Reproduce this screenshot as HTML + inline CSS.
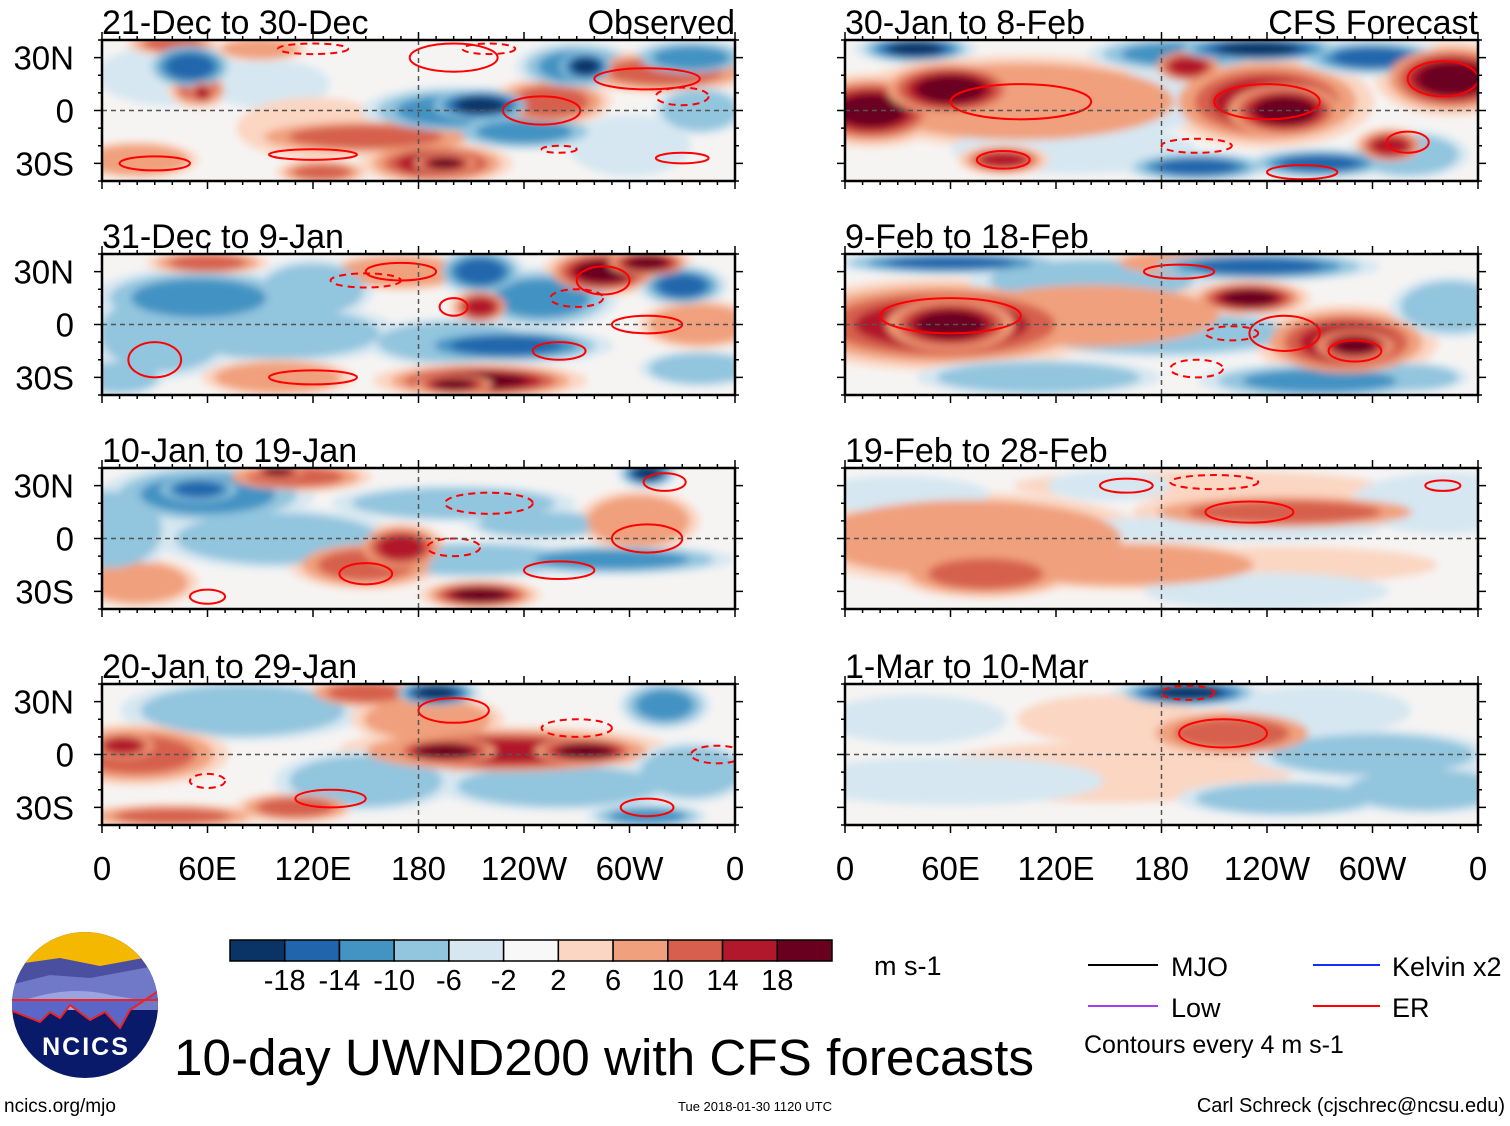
<!DOCTYPE html>
<html><head><meta charset="utf-8"><style>
html,body{margin:0;padding:0;background:#fff;}
body{width:1510px;height:1121px;overflow:hidden;font-family:"Liberation Sans",sans-serif;}
svg text{font-family:"Liberation Sans",sans-serif;fill:#000;}
</style></head><body>
<svg id="fig" width="1510" height="1121" viewBox="0 0 1510 1121" xmlns="http://www.w3.org/2000/svg">
<defs>
<filter id="soft" x="-20%" y="-20%" width="140%" height="140%"><feGaussianBlur stdDeviation="4"/></filter>
<clipPath id="logoClip"><circle cx="85" cy="1005" r="73"/></clipPath>
</defs>
<g id="panels"></g>
<g id="colorbar"></g>
<text x="874" y="975" font-size="27">m s-1</text>
<g clip-path="url(#logoClip)">
<rect x="10" y="930" width="150" height="150" fill="#0a1a6a"/>
<rect x="10" y="930" width="150" height="40" fill="#f5b800"/>
<path d="M10 965 L60 958 L100 966 L160 955 L160 1000 L10 1000Z" fill="#4a4fa0"/>
<path d="M10 985 L50 975 L90 978 L160 965 L160 1010 L10 1010Z" fill="#7078c8"/>
<path d="M25 1000 Q70 985 110 995 L140 1000 L100 1010 L30 1010Z" fill="#9aa4e0"/>
<path d="M10 1010 L40 1022 L50 1012 L60 1018 L70 1005 L90 1020 L105 1012 L120 1028 L130 1010 L160 990 L160 1000 L10 1000Z" fill="#5a66c8" stroke="#e22" stroke-width="2"/>
<text x="86" y="1055" font-size="25" font-weight="bold" text-anchor="middle" style="fill:#fff" letter-spacing="2">NCICS</text>
</g>
<text x="174" y="1075" font-size="51" textLength="860" lengthAdjust="spacingAndGlyphs">10-day UWND200 with CFS forecasts</text>
<text x="4" y="1112" font-size="19">ncics.org/mjo</text>
<text x="755" y="1111" font-size="13" text-anchor="middle">Tue 2018-01-30 1120 UTC</text>
<text x="1505" y="1112" font-size="20" text-anchor="end">Carl Schreck (cjschrec@ncsu.edu)</text>
<g>
<line x1="1088" y1="965" x2="1158" y2="965" stroke="#000" stroke-width="2"/>
<text x="1171" y="976" font-size="27">MJO</text>
<line x1="1088" y1="1006" x2="1158" y2="1006" stroke="#a040f0" stroke-width="2"/>
<text x="1171" y="1017" font-size="27">Low</text>
<line x1="1313" y1="965" x2="1380" y2="965" stroke="#1030ff" stroke-width="2"/>
<text x="1392" y="976" font-size="27">Kelvin x2</text>
<line x1="1313" y1="1006" x2="1380" y2="1006" stroke="#f00" stroke-width="2"/>
<text x="1392" y="1017" font-size="27">ER</text>
<text x="1084" y="1053" font-size="25">Contours every 4 m s-1</text>
</g>
</svg>
<script>
const levelLabels=["-18","-14","-10","-6","-2","2","6","10","14","18"];
const levelColors=["#0b3466","#2166ac","#4393c3","#92c5de","#d6e7f1","#f8f8f8","#fbd6c2","#f0a07c","#d6604d","#b2182b","#6a0020"];
const panelTitles=["21-Dec to 30-Dec","31-Dec to 9-Jan","10-Jan to 19-Jan","20-Jan to 29-Jan","30-Jan to 8-Feb","9-Feb to 18-Feb","19-Feb to 28-Feb","1-Mar to 10-Mar"];
const lonTicks=[0,60,120,180,240,300,360];
const lonTickLabels=["0","60E","120E","180","120W","60W","0"];
const latTicks=[30,0,-30];
const latTickLabels=["30N","0","30S"];
// anomaly blobs: [lon, lat, lonRadius, latRadius, level(-5..5)]
const blobs0=[[40,20,25,10,-1],[50,25,15,8,-4],[55,12,10,6,3],[57,10,5,4,4],[95,15,20,8,-1],[20,-28,20,6,2],[120,-10,25,10,1],[150,-15,40,6,3],[200,0,30,8,-3],[215,3,18,6,-5],[240,-12,25,6,-3],[255,5,20,8,3],[190,-30,25,7,4],[195,-30,12,4,5],[125,-35,15,4,3],[270,25,20,8,-3],[275,25,10,6,-5],[320,22,30,7,3],[335,30,20,6,-3],[340,0,15,8,-2],[40,38,15,4,3],[90,35,15,4,2],[300,-20,20,10,-1]];
const blobs1=[[55,15,35,10,-3],[35,-5,25,15,-2],[60,35,20,4,3],[170,30,25,6,2],[215,30,15,8,-4],[250,15,25,10,-3],[215,10,10,6,4],[285,30,20,8,5],[310,35,15,5,5],[330,22,15,7,-4],[200,-10,30,8,-2],[230,-12,35,6,-4],[215,-32,35,6,5],[200,-34,15,4,5],[100,-5,40,10,-2],[100,-30,25,6,2],[10,-30,15,6,-2],[340,-25,20,6,-2],[120,20,20,10,-2],[340,0,20,8,2]];
const blobs2=[[60,25,35,10,-3],[55,28,15,5,-4],[100,0,40,10,-2],[110,35,25,5,3],[100,38,10,3,5],[200,20,40,6,-2],[250,8,25,5,-2],[310,37,10,5,-5],[290,-12,40,5,-3],[210,-12,40,6,-2],[215,-32,20,5,5],[150,-15,25,8,3],[20,-25,20,8,2],[305,10,20,10,2],[5,5,20,15,-2],[170,-5,15,8,4]];
const blobs3=[[80,25,40,10,-2],[190,35,15,5,-5],[185,20,25,8,2],[230,2,55,8,4],[195,2,20,5,5],[275,2,20,5,5],[320,28,15,8,-3],[20,0,30,10,3],[12,5,12,5,4],[110,-30,20,5,3],[260,-18,40,8,-2],[310,-35,20,4,-3],[40,-35,30,4,3],[335,-10,20,10,-2],[150,-15,30,10,-2],[150,35,20,5,3]];
const blobs4=[[40,35,20,5,-5],[100,5,60,15,2],[15,0,25,12,5],[60,12,25,10,5],[190,32,30,6,-3],[235,35,30,5,-5],[195,25,12,6,4],[240,5,35,15,4],[250,0,22,10,5],[345,18,25,12,5],[300,30,25,6,-4],[200,-32,25,5,-4],[270,-30,25,5,-4],[320,-25,20,8,-2],[130,-22,40,8,-1],[90,-28,15,5,4],[310,-20,12,6,4],[170,5,20,10,-1]];
const blobs5=[[55,0,55,15,4],[60,0,25,10,5],[60,35,40,4,-4],[140,25,40,8,-2],[235,33,40,5,-4],[230,15,20,6,5],[180,-5,50,8,-2],[285,-10,30,12,4],[290,-12,15,6,5],[140,5,50,12,2],[270,-32,40,6,-3],[345,10,20,10,-2],[200,35,30,5,2],[110,-30,40,6,-2],[320,-30,20,5,-2]];
const blobs6=[[70,0,60,15,2],[80,-20,30,8,3],[250,15,50,6,3],[200,30,60,5,1],[160,-15,50,8,2],[250,-15,50,6,1],[340,20,30,10,-1],[30,25,30,6,-1],[200,5,60,4,-1],[240,-30,40,6,-1],[150,30,20,5,-1]];
const blobs7=[[195,35,25,5,-5],[220,12,30,8,3],[150,-10,60,10,1],[60,-15,50,8,-1],[300,0,40,8,-2],[330,-20,30,8,-2],[270,25,30,8,-1],[40,20,30,8,-1],[150,20,30,8,1],[250,-25,35,6,-2]];
// red contours: [lon, lat, lonRadius, latRadius, dashed]
const cont0=[[200,30,25,8,0],[250,0,22,8,0],[310,18,30,6,0],[120,-25,25,3,0],[260,-22,10,2,1],[330,-27,15,3,0],[30,-30,20,4,0],[120,35,20,3,1],[220,35,15,3,1],[330,8,15,5,1]];
const cont1=[[170,30,20,5,0],[285,25,15,8,0],[200,10,8,5,0],[310,0,20,5,0],[260,-15,15,5,0],[30,-20,15,10,0],[120,-30,25,4,0],[270,15,15,5,1],[150,25,20,4,1]];
const cont2=[[220,20,25,6,1],[310,0,20,8,0],[260,-18,20,5,0],[150,-20,15,6,0],[60,-33,10,4,0],[320,32,12,5,0],[200,-5,15,5,1]];
const cont3=[[200,25,20,7,0],[270,15,20,5,1],[130,-25,20,5,0],[310,-30,15,5,0],[60,-15,10,4,1],[350,0,15,5,1]];
const cont4=[[100,5,40,10,0],[240,5,30,10,0],[340,18,20,10,0],[320,-18,12,6,0],[260,-35,20,4,0],[90,-28,15,5,0],[200,-20,20,4,1]];
const cont5=[[60,5,40,10,0],[190,30,20,4,0],[250,-5,20,10,0],[220,-5,15,4,1],[290,-15,15,6,0],[200,-25,15,5,1]];
const cont6=[[230,15,25,6,0],[160,30,15,4,0],[210,32,25,4,1],[340,30,10,3,0]];
const cont7=[[215,12,25,8,0],[195,35,15,4,1]];
const allBlobs=[blobs0,blobs1,blobs2,blobs3,blobs4,blobs5,blobs6,blobs7];
const allCont=[cont0,cont1,cont2,cont3,cont4,cont5,cont6,cont7];

const NS="http://www.w3.org/2000/svg";
function mk(tag,attrs,parent){const e=document.createElementNS(NS,tag);for(const k in attrs)e.setAttribute(k,attrs[k]);parent.appendChild(e);return e;}
const colX=[102,845];const rowY=[40,254,468,684];const PW=633,PH=141;
const panelsG=document.getElementById('panels');
const GROW=1.45;
for(let p=0;p<8;p++){
  const x0=colX[p<4?0:1],y0=rowY[p%4];
  const lonX=l=>x0+l/360*PW;
  const latY=a=>y0+PH/2-a/80*PH;
  const g=mk('g',{},panelsG);
  
  
  const cid='clip'+p;
  const cp=mk('clipPath',{id:cid},g);mk('rect',{x:x0,y:y0,width:PW,height:PH},cp);
  const inner=mk('g',{'clip-path':'url(#'+cid+')'},g);
  mk('rect',{x:x0,y:y0,width:PW,height:PH,fill:'#f6f4f3'},inner);
  const fg=mk('g',{filter:'url(#soft)'},inner);
  const bs=allBlobs[p];
  bs.forEach(b=>{
    const sgn=Math.sign(b[4]);if(!sgn)return;
    const e=mk('ellipse',{cx:lonX(b[0]),cy:latY(b[1]),rx:b[2]/360*PW*GROW*1.2,ry:b[3]/80*PH*GROW*1.2,fill:levelColors[5+sgn]},fg);
    
    
  });
  bs.slice().sort((a,b)=>Math.abs(a[4])-Math.abs(b[4])).forEach(b=>{
    const lv=b[4];const steps=Math.abs(lv);const sgn=Math.sign(lv);
    for(let s=2;s<=steps;s++){
      const f=1-(s-2)/(steps+0.5)*0.85;
      const e=mk('ellipse',{cx:lonX(b[0]),cy:latY(b[1]),rx:b[2]/360*PW*f*GROW,ry:b[3]/80*PH*f*GROW,fill:levelColors[5+sgn*s]},fg);
      
      
    }
  });
  allCont[p].forEach(c=>{
    const e=mk('ellipse',{cx:lonX(c[0]),cy:latY(c[1]),rx:c[2]/360*PW,ry:c[3]/80*PH,fill:'none',stroke:'#f00','stroke-width':2,'stroke-dasharray':c[4]?'7,5':'none'},inner);
    
    
  });
  mk('line',{x1:x0,x2:x0+PW,y1:latY(0),y2:latY(0),stroke:'#555','stroke-width':1.5,'stroke-dasharray':'5,4'},inner);
  mk('line',{x1:lonX(180),x2:lonX(180),y1:y0,y2:y0+PH,stroke:'#555','stroke-width':1.5,'stroke-dasharray':'5,4'},inner);
  mk('rect',{x:x0,y:y0,width:PW,height:PH,fill:'none',stroke:'#000','stroke-width':2.5},g);
  for(let l=0;l<=360;l+=10){const len=l%60===0?8:4;
    mk('line',{x1:lonX(l),x2:lonX(l),y1:y0,y2:y0-len,stroke:'#000','stroke-width':1.5},g);
    mk('line',{x1:lonX(l),x2:lonX(l),y1:y0+PH,y2:y0+PH+len,stroke:'#000','stroke-width':1.5},g);}
  for(let a=-40;a<=40;a+=10){const len=a%30===0?8:4;
    mk('line',{x1:x0,x2:x0-len,y1:latY(a),y2:latY(a),stroke:'#000','stroke-width':1.5},g);
    mk('line',{x1:x0+PW,x2:x0+PW+len,y1:latY(a),y2:latY(a),stroke:'#000','stroke-width':1.5},g);}
  const t=mk('text',{x:x0,y:y0-6,'font-size':34},g);t.textContent=panelTitles[p];
  
  
  if(p%4===0){const s=mk('text',{x:x0+PW,y:y0-6,'font-size':34,'text-anchor':'end'},g);s.textContent=p===0?'Observed':'CFS Forecast';
    
    }
  if(p<4){latTicks.forEach((a,i)=>{const tl=mk('text',{x:74,y:latY(a)+12,'font-size':33,'text-anchor':'end'},g);tl.textContent=latTickLabels[i];
    
    });}
  if(p%4===3){lonTicks.forEach((l,i)=>{const tl=mk('text',{x:lonX(l),y:880,'font-size':33,'text-anchor':'middle'},g);tl.textContent=lonTickLabels[i];
    
    });}
}
const cb=document.getElementById('colorbar');
const cbx=230,cbw=602/11;
levelColors.forEach((c,i)=>{const r=mk('rect',{x:cbx+i*cbw,y:940,width:cbw,height:21,fill:c,stroke:'#000','stroke-width':1.5},cb);
  
  });
levelLabels.forEach((s,i)=>{const t=mk('text',{x:cbx+(i+1)*cbw,y:990,'font-size':29,'text-anchor':'middle'},cb);t.textContent=s;
  
  });
</script>
</body></html>
